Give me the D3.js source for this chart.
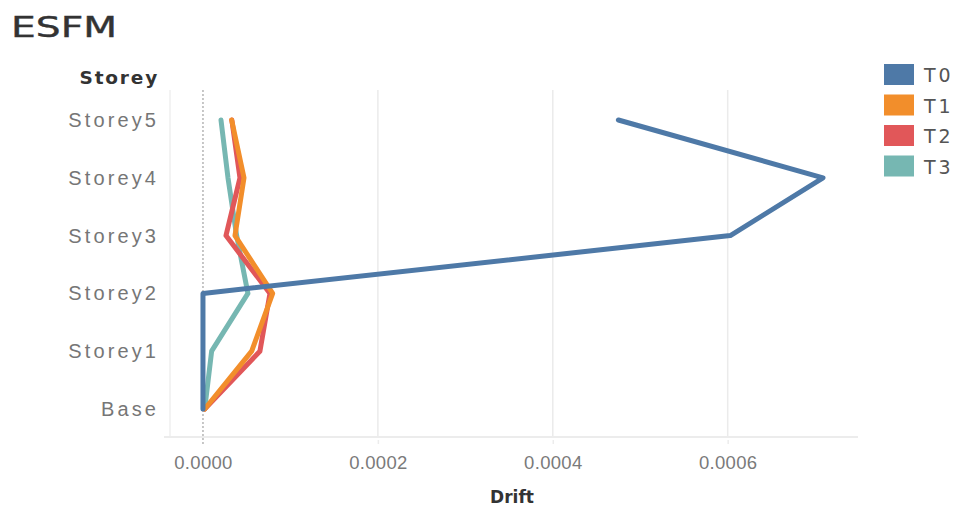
<!DOCTYPE html>
<html>
<head>
<meta charset="utf-8">
<script src="https://cdn.jsdelivr.net/npm/d3@7"></script>
<style>
  html, body { margin: 0; padding: 0; background: #fff; }
  svg { display: block; font-family: "DejaVu Sans", sans-serif; }
</style>
</head>
<body>
<svg id="chart" width="959" height="511"></svg>
<script>
// Storey levels, top to bottom
const storeys = ["Storey5", "Storey4", "Storey3", "Storey2", "Storey1", "Base"];
// Drift per storey for each case (order matches storeys)
const T0 = [0.000475, 0.000709, 0.000603, 0.0, 0.0, 0.0];
const T1 = [0.0000328, 0.0000469, 0.0000366, 0.0000797, 0.0000557, 0.000002];
const T2 = [0.000033, 0.0000423, 0.0000263, 0.0000766, 0.0000651, 0.000002];
const T3 = [0.0000206, 0.0000286, 0.0000385, 0.0000514, 0.0000099, 0.000002];
const seriesNames = ["T0", "T1", "T2", "T3"];
const seriesColors = ["#4e79a7", "#f28e2b", "#e15759", "#76b7b2"];
const xTicks = [0, 0.0002, 0.0004, 0.0006];

const series = [T0, T1, T2, T3].map((vals, i) => ({
  name: seriesNames[i], color: seriesColors[i],
  points: storeys.map((s, j) => ({ storey: s, value: vals[j] }))
}));

const svg = d3.select("#chart");
const plot = { left: 170, right: 858, top: 90, bottom: 436 };

const x = d3.scaleLinear()
  .domain([-0.0000377, 0.000749])
  .range([plot.left, plot.right]);
const y = d3.scalePoint()
  .domain(storeys)
  .range([120, 409]);

// Title
svg.append("text")
  .attr("x", 11).attr("y", 37)
  .attr("font-size", 29).attr("fill", "#333")
  .attr("stroke", "#333").attr("stroke-width", 0.4)
  .attr("textLength", 106).attr("lengthAdjust", "spacingAndGlyphs")
  .text("ESFM");

// Vertical grid lines
svg.append("g").selectAll("line")
  .data(xTicks.filter(d => d !== 0))
  .join("line")
  .attr("x1", d => x(d)).attr("x2", d => x(d))
  .attr("y1", plot.top).attr("y2", plot.bottom)
  .attr("stroke", "#ebebeb").attr("stroke-width", 1.5);

// Plot left border
svg.append("line")
  .attr("x1", plot.left).attr("x2", plot.left)
  .attr("y1", plot.top).attr("y2", plot.bottom)
  .attr("stroke", "#ebebeb").attr("stroke-width", 1.2);

// Zero reference line (dotted)
svg.append("line")
  .attr("x1", x(0)).attr("x2", x(0))
  .attr("y1", plot.top).attr("y2", plot.bottom + 8)
  .attr("stroke", "#b5b5b5").attr("stroke-width", 1.5)
  .attr("stroke-dasharray", "2,2");

// Bottom axis
const xAxis = d3.axisBottom(x)
  .tickValues(xTicks)
  .tickFormat(d3.format(".4f"))
  .tickSize(7)
  .tickPadding(12);
const gx = svg.append("g")
  .attr("transform", `translate(0,${plot.bottom + 1})`)
  .call(xAxis);
gx.select(".domain").remove();
gx.append("line")
  .attr("x1", 164).attr("x2", plot.right)
  .attr("y1", 0).attr("y2", 0)
  .attr("stroke", "#e6e6e6").attr("stroke-width", 1.5);
gx.selectAll(".tick line").attr("stroke", "#ececec").attr("stroke-width", 1.5)
  .attr("y1", 3);
gx.selectAll(".tick").filter(d => d === 0).select("line").attr("stroke", "none");
gx.selectAll(".tick text")
  .attr("font-size", 18.5).attr("fill", "#7a7a7a")
  .attr("letter-spacing", 0.3);

// Left axis labels
const yAxis = d3.axisLeft(y).tickSize(0).tickPadding(11);
const gy = svg.append("g")
  .attr("transform", `translate(${plot.left},0)`)
  .call(yAxis);
gy.select(".domain").remove();
gy.selectAll(".tick text")
  .attr("font-size", 20).attr("fill", "#767676")
  .attr("letter-spacing", 3.1);

// Axis titles
svg.append("text")
  .attr("x", 159).attr("y", 84)
  .attr("text-anchor", "end")
  .attr("font-size", 18.5).attr("font-weight", "bold").attr("fill", "#333")
  .attr("letter-spacing", 1.8)
  .text("Storey");
svg.append("text")
  .attr("x", 512).attr("y", 503)
  .attr("text-anchor", "middle")
  .attr("font-size", 17).attr("font-weight", "bold").attr("fill", "#333")
  .text("Drift");

// Series lines (T0 drawn last, on top)
const line = d3.line()
  .x(d => x(d.value))
  .y(d => y(d.storey));
svg.append("g").selectAll("path")
  .data(series.slice().reverse())
  .join("path")
  .attr("d", d => line(d.points))
  .attr("fill", "none")
  .attr("stroke", d => d.color)
  .attr("stroke-width", 5)
  .attr("stroke-linejoin", "round")
  .attr("stroke-linecap", "round");

// Legend
const legend = svg.append("g").attr("transform", "translate(884,64)");
const items = legend.selectAll("g")
  .data(series)
  .join("g")
  .attr("transform", (d, i) => `translate(0,${i * 30.5})`);
items.append("rect")
  .attr("width", 30).attr("height", 21)
  .attr("fill", d => d.color);
items.append("text")
  .attr("x", 40).attr("y", 18)
  .attr("font-size", 19).attr("fill", "#555")
  .attr("letter-spacing", 3)
  .text(d => d.name);
</script>
</body>
</html>
